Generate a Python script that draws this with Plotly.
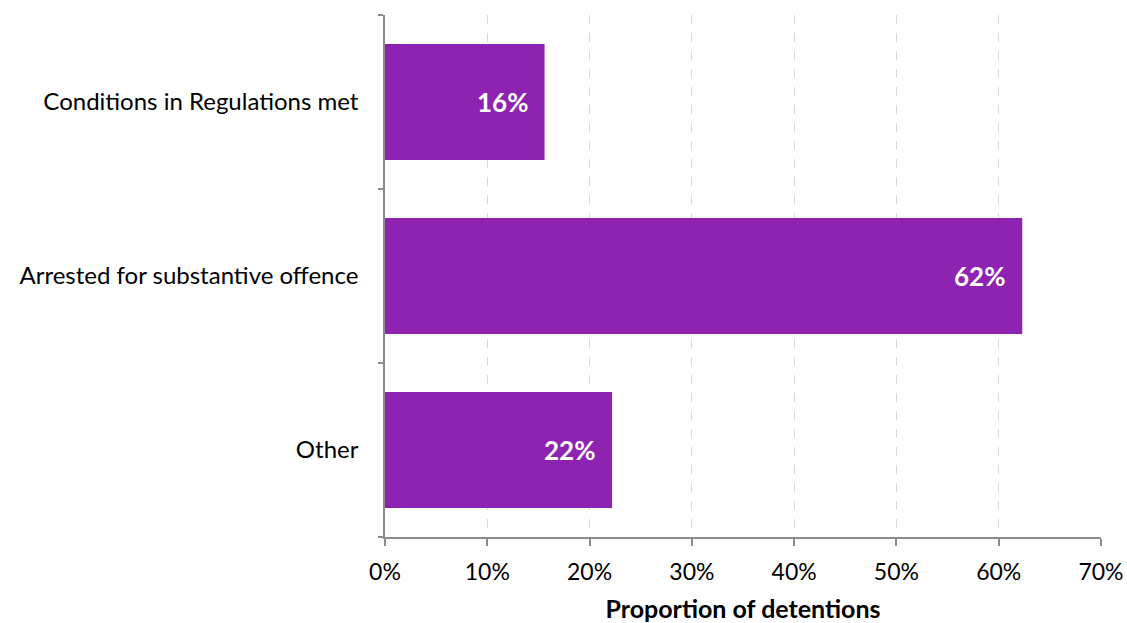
import plotly.graph_objects as go

categories = ["Conditions in Regulations met", "Arrested for substantive offence", "Other"]
values = [0.156, 0.623, 0.222]
value_labels = ["16%", "62%", "22%"]

FONT = "Lato, 'Open Sans', sans-serif"
BAR = "#8E23B2"

fig = go.Figure(
    go.Bar(
        y=categories,
        x=values,
        orientation="h",
        marker=dict(color=BAR, line=dict(width=0)),
        width=0.667,
        hoverinfo="skip",
    )
)

for cat, v, lab in zip(categories, values, value_labels):
    fig.add_annotation(
        x=v, y=cat, text=f"<b>{lab}</b>", showarrow=False,
        xanchor="right", xshift=-15,
        font=dict(family=FONT, size=26, color="white"),
    )

fig.update_layout(
    width=1127, height=623,
    margin=dict(l=385, r=26, t=15, b=86),
    paper_bgcolor="white", plot_bgcolor="white",
    font=dict(family=FONT, size=23, color="#000000"),
    showlegend=False,
    xaxis=dict(
        range=[0, 0.7], dtick=0.1, tickformat=".0%",
        showgrid=True, gridcolor="#d9d9d9", griddash="dash", gridwidth=1,
        showline=True, linecolor="#8c8c8c", linewidth=1.5,
        ticks="outside", ticklen=7, tickcolor="#8c8c8c", tickwidth=1.5,
        zeroline=False, automargin=False, ticklabelstandoff=7,
        title=dict(text="<b>Proportion of detentions</b>", font=dict(family=FONT, size=25), standoff=20),
        tickfont=dict(family=FONT, size=23),
    ),
    yaxis=dict(
        categoryorder="array", categoryarray=categories[::-1],
        showline=True, linecolor="#8c8c8c", linewidth=1.5,
        ticks="outside", ticklen=5, tickcolor="#8c8c8c", tickwidth=1.5,
        tickson="boundaries", showgrid=False, zeroline=False,
        automargin=False, ticklabelstandoff=20,
        tickfont=dict(family=FONT, size=24),
    ),
)

fig.write_html("out.html")
